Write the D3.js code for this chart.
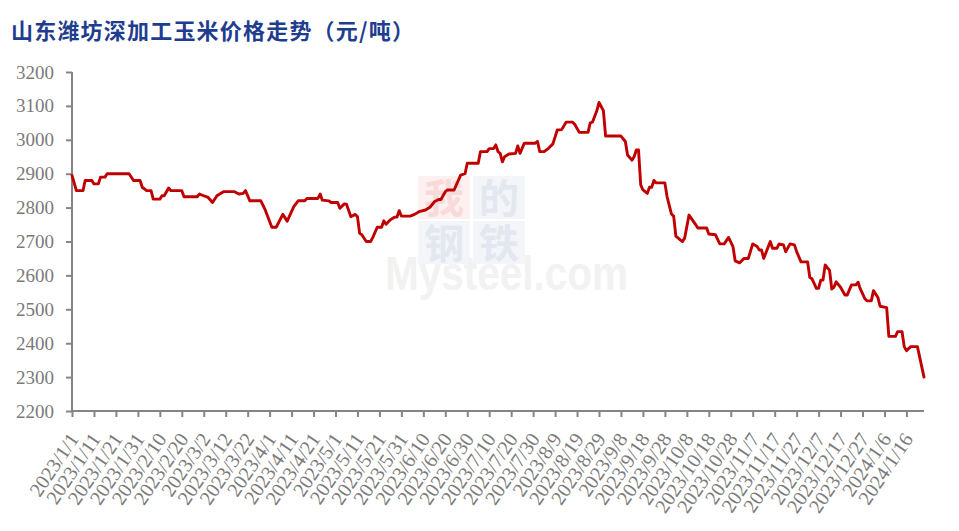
<!DOCTYPE html>
<html>
<head>
<meta charset="utf-8">
<script src="https://cdn.jsdelivr.net/npm/d3@7"></script>
<style>
  html, body { margin: 0; padding: 0; background: #ffffff; }
  svg { display: block; }
</style>
</head>
<body>
<svg id="chart" width="959" height="531"></svg>
<script>
// ---------- data ----------
const title = "山东潍坊深加工玉米价格走势（元/吨）";

const dates = [
  "2023/1/1","2023/1/3","2023/1/6","2023/1/7","2023/1/10","2023/1/11","2023/1/13","2023/1/14","2023/1/16","2023/1/17",
  "2023/1/27","2023/1/29","2023/2/1","2023/2/2","2023/2/4","2023/2/6","2023/2/7","2023/2/10","2023/2/11","2023/2/12",
  "2023/2/14","2023/2/15","2023/2/20","2023/2/21","2023/2/27","2023/2/28","2023/3/2","2023/3/4","2023/3/6","2023/3/8",
  "2023/3/11","2023/3/16","2023/3/18","2023/3/20","2023/3/21","2023/3/23","2023/3/28","2023/3/30","2023/4/2","2023/4/4",
  "2023/4/7","2023/4/9","2023/4/12","2023/4/14","2023/4/17","2023/4/18","2023/4/23","2023/4/24","2023/4/25","2023/4/28",
  "2023/4/29","2023/5/2","2023/5/3","2023/5/5","2023/5/6","2023/5/8","2023/5/10","2023/5/11","2023/5/12","2023/5/13",
  "2023/5/15","2023/5/17","2023/5/18","2023/5/20","2023/5/22","2023/5/23","2023/5/24","2023/5/26","2023/5/28","2023/5/29",
  "2023/5/30","2023/5/31","2023/6/4","2023/6/6","2023/6/8","2023/6/11","2023/6/13","2023/6/15","2023/6/17","2023/6/18",
  "2023/6/20","2023/6/21","2023/6/24","2023/6/26","2023/6/27","2023/6/29","2023/6/30","2023/7/5","2023/7/6","2023/7/9",
  "2023/7/10","2023/7/12","2023/7/13","2023/7/14","2023/7/15","2023/7/16","2023/7/17","2023/7/19","2023/7/22","2023/7/23",
  "2023/7/24","2023/7/26","2023/7/31","2023/8/1","2023/8/2","2023/8/4","2023/8/6","2023/8/8","2023/8/10","2023/8/12",
  "2023/8/14","2023/8/17","2023/8/18","2023/8/20","2023/8/24","2023/8/25","2023/8/26","2023/8/28","2023/8/29","2023/8/31",
  "2023/9/1","2023/9/8","2023/9/10","2023/9/11","2023/9/13","2023/9/14","2023/9/15","2023/9/16","2023/9/17","2023/9/18",
  "2023/9/20","2023/9/21","2023/9/22","2023/9/23","2023/9/24","2023/9/28","2023/9/29","2023/10/1","2023/10/2","2023/10/3",
  "2023/10/5","2023/10/6","2023/10/7","2023/10/9","2023/10/12","2023/10/13","2023/10/17","2023/10/18","2023/10/21","2023/10/23",
  "2023/10/25","2023/10/27","2023/10/29","2023/10/30","2023/11/1","2023/11/3","2023/11/5","2023/11/7","2023/11/9","2023/11/10",
  "2023/11/11","2023/11/12","2023/11/15","2023/11/16","2023/11/18","2023/11/19","2023/11/21","2023/11/22","2023/11/24","2023/11/26",
  "2023/11/27","2023/11/29","2023/12/2","2023/12/3","2023/12/4","2023/12/6","2023/12/7","2023/12/8","2023/12/9","2023/12/10",
  "2023/12/12","2023/12/13","2023/12/14","2023/12/15","2023/12/17","2023/12/19","2023/12/20","2023/12/22","2023/12/24","2023/12/25",
  "2023/12/26","2023/12/28","2023/12/29","2023/12/31","2024/1/1","2024/1/3","2024/1/4","2024/1/7","2024/1/8","2024/1/11",
  "2024/1/12","2024/1/14","2024/1/15","2024/1/16","2024/1/18","2024/1/21","2024/1/24"
];

const prices = [
  2895,2850,2850,2880,2880,2870,2870,2890,2890,2900,
  2900,2880,2880,2860,2850,2850,2825,2825,2835,2835,
  2858,2850,2850,2832,2832,2840,2835,2830,2815,2835,
  2847,2847,2840,2842,2850,2820,2820,2793,2742,2742,
  2780,2760,2803,2820,2820,2827,2827,2840,2822,2820,
  2815,2815,2798,2811,2810,2773,2780,2773,2724,2720,
  2700,2700,2712,2742,2742,2761,2751,2764,2772,2772,
  2791,2775,2775,2780,2788,2793,2801,2817,2824,2824,
  2847,2852,2852,2881,2896,2900,2931,2931,2965,2965,
  2974,2974,2985,2965,2960,2935,2950,2958,2960,2982,
  2960,2990,2990,2995,2965,2965,2975,2988,3029,3030,
  3052,3052,3045,3022,3022,3050,3052,3086,3110,3086,
  3011,3011,2995,2955,2940,2950,2970,2970,2867,2852,
  2842,2860,2860,2880,2873,2873,2832,2781,2775,2716,
  2705,2700,2710,2778,2750,2740,2740,2722,2720,2693,
  2693,2712,2685,2643,2637,2650,2650,2693,2685,2675,
  2675,2650,2700,2680,2680,2693,2690,2670,2693,2690,
  2670,2640,2640,2594,2590,2562,2562,2586,2586,2631,
  2615,2560,2565,2581,2565,2542,2542,2572,2572,2580,
  2560,2532,2525,2525,2555,2535,2509,2505,2420,2420,
  2434,2434,2390,2378,2390,2390,2300
];

const xTickLabels = [
  "2023/1/1","2023/1/11","2023/1/21","2023/1/31","2023/2/10","2023/2/20","2023/3/2","2023/3/12",
  "2023/3/22","2023/4/1","2023/4/11","2023/4/21","2023/5/1","2023/5/11","2023/5/21","2023/5/31",
  "2023/6/10","2023/6/20","2023/6/30","2023/7/10","2023/7/20","2023/7/30","2023/8/9","2023/8/19",
  "2023/8/29","2023/9/8","2023/9/18","2023/9/28","2023/10/8","2023/10/18","2023/10/28","2023/11/7",
  "2023/11/17","2023/11/27","2023/12/7","2023/12/17","2023/12/27","2024/1/6","2024/1/16"
];

const yTicks = [2200,2300,2400,2500,2600,2700,2800,2900,3000,3100,3200];
const xDomain = ["2023/1/1", "2024/1/24"];
const yDomain = [2200, 3200];

// ---------- layout ----------
const svg = d3.select("#chart");
const parse = d3.timeParse("%Y/%m/%d");
const plotLeft = 72, plotRight = 924, plotTop = 72, plotBottom = 411;
const axisColor = "#858585";
const labelColor = "#7a7a7a";
const serif = "'Liberation Serif','Times New Roman',serif";

const x = d3.scaleTime().domain(xDomain.map(parse)).range([plotLeft, plotRight]);
const y = d3.scaleLinear().domain(yDomain).range([plotBottom, plotTop]);

// ---------- watermark ----------
const wm = svg.append("g").attr("class", "watermark");
const wmCells = [
  {ch: "我", col: 0, row: 0, bg: "#fdf0f0", fg: "#f8dada"},
  {ch: "的", col: 1, row: 0, bg: "#f3f5f9", fg: "#e3e7ef"},
  {ch: "钢", col: 0, row: 1, bg: "#f3f5f9", fg: "#e3e7ef"},
  {ch: "铁", col: 1, row: 1, bg: "#f3f5f9", fg: "#e3e7ef"}
];
wmCells.forEach(c => {
  const cx = 418 + c.col * 55, cy = 176 + c.row * 45;
  wm.append("rect").attr("x", cx).attr("y", cy).attr("width", 52).attr("height", 43).attr("fill", c.bg);
  wm.append("text").attr("x", cx + 26).attr("y", cy + 37).attr("text-anchor", "middle")
    .attr("font-family", "'Noto Sans CJK SC',sans-serif").attr("font-size", 40).attr("font-weight", "bold")
    .attr("fill", c.fg).text(c.ch);
});
wm.append("text").attr("x", 385).attr("y", 290)
  .attr("font-family", "'Liberation Sans',Arial,sans-serif").attr("font-size", 48).attr("font-weight", "bold")
  .attr("textLength", 243).attr("lengthAdjust", "spacingAndGlyphs")
  .attr("fill", "#f2f2f2").text("Mysteel.com");

// ---------- title ----------
svg.append("text")
  .attr("x", 11).attr("y", 39)
  .attr("font-family", "'Noto Sans CJK SC',sans-serif")
  .attr("font-size", 22).attr("font-weight", "bold")
  .attr("letter-spacing", 1.2)
  .attr("fill", "#1f3d8f")
  .text(title);

// ---------- y axis ----------
const yAxis = svg.append("g")
  .attr("transform", `translate(${plotLeft},0)`)
  .call(d3.axisLeft(y).tickValues(yTicks).tickSize(6).tickPadding(12).tickFormat(d3.format("d")));
yAxis.select(".domain").attr("stroke", axisColor).attr("stroke-width", 2).attr("d", `M0,${plotTop}V${plotBottom}`);
yAxis.selectAll(".tick line").attr("stroke", axisColor).attr("stroke-width", 2);
yAxis.selectAll(".tick text").attr("fill", labelColor).attr("font-family", serif).attr("font-size", 19);

// ---------- x axis ----------
const xTickDates = xTickLabels.map(parse);
const xAxis = svg.append("g")
  .attr("transform", `translate(0,${plotBottom})`)
  .call(d3.axisBottom(x).tickValues(xTickDates).tickSize(6).tickFormat(d3.timeFormat("%Y/%-m/%-d")));
xAxis.select(".domain").attr("stroke", axisColor).attr("stroke-width", 2).attr("d", `M${plotLeft},0H${plotRight}`);
xAxis.selectAll(".tick line").attr("stroke", axisColor).attr("stroke-width", 2);
xAxis.selectAll(".tick text")
  .attr("fill", labelColor).attr("font-family", serif).attr("font-size", 20)
  .attr("text-anchor", "end")
  .attr("dy", null)
  .attr("y", 0)
  .attr("transform", "translate(7,28) rotate(-56)");

// ---------- line ----------
const series = dates.map((d, i) => ({date: parse(d), value: prices[i]}));
svg.append("path")
  .datum(series)
  .attr("fill", "none")
  .attr("stroke", "#c00000")
  .attr("stroke-width", 2.9)
  .attr("stroke-linejoin", "round")
  .attr("stroke-linecap", "round")
  .attr("d", d3.line().x(d => x(d.date)).y(d => y(d.value)));
</script>
</body>
</html>
